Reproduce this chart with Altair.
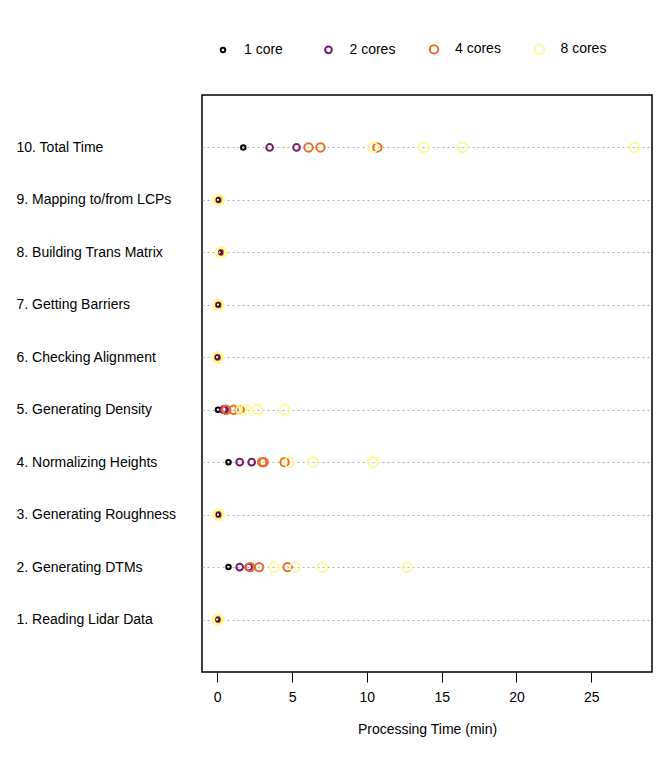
import altair as alt
import pandas as pd

steps = ["10. Total Time", "9. Mapping to/from LCPs", "8. Building Trans Matrix",
         "7. Getting Barriers", "6. Checking Alignment", "5. Generating Density",
         "4. Normalizing Heights", "3. Generating Roughness", "2. Generating DTMs",
         "1. Reading Lidar Data"]
cores = ["1 core", "2 cores", "4 cores", "8 cores"]

# values (min) per step per core count
vals = {
    "10. Total Time": [[1.74], [3.5, 5.3], [6.1, 6.9, 10.7], [10.4, 13.8, 16.4, 27.9]],
    "9. Mapping to/from LCPs": [[0.05], [0.05, 0.08], [0.05, 0.1, 0.08], [0.05, 0.1, 0.12, 0.08]],
    "8. Building Trans Matrix": [[0.15], [0.15, 0.2], [0.2, 0.25, 0.2], [0.25, 0.3, 0.3, 0.2]],
    "7. Getting Barriers": [[0.05], [0.05, 0.06], [0.05, 0.08, 0.06], [0.05, 0.08, 0.1, 0.06]],
    "6. Checking Alignment": [[0.0], [0.0, 0.02], [0.0, 0.02, 0.03], [0.0, 0.02, 0.03, 0.04]],
    "5. Generating Density": [[0.05], [0.4, 0.5], [0.6, 1.1, 1.5], [1.6, 1.9, 2.7, 4.5]],
    "4. Normalizing Heights": [[0.75], [1.5, 2.3], [3.0, 3.1, 4.5], [4.8, 6.4, 10.4, 10.4]],
    "3. Generating Roughness": [[0.05], [0.05, 0.08], [0.05, 0.1, 0.08], [0.05, 0.1, 0.12, 0.08]],
    "2. Generating DTMs": [[0.75], [1.5, 2.1], [2.2, 2.8, 4.7], [3.8, 5.2, 7.0, 12.7]],
    "1. Reading Lidar Data": [[0.0], [0.0, 0.05], [0.0, 0.05, 0.08], [0.0, 0.05, 0.08, 0.1]],
}

rows = []
for s in steps:
    for c, vs in zip(cores, vals[s]):
        for v in vs:
            rows.append({"step": s, "cores": c, "time": v})
df = pd.DataFrame(rows)

colors = ["#000000", "#781c6d", "#ed6925", "#fcfa9a"]
sizes = [20, 95, 180, 350]

chart = alt.Chart(df).mark_point(filled=False, strokeWidth=2, shape="circle", opacity=1).encode(
    x=alt.X("time:Q", scale=alt.Scale(domain=[-1.02, 29.06], nice=False, zero=False),
            axis=alt.Axis(values=[0, 5, 10, 15, 20, 25], title="Processing Time (min)", grid=False,
                          domain=False, tickSize=10, tickColor="black", labelFontSize=14,
                          labelPadding=8, titleFontSize=14, titleFontWeight="normal",
                          titlePadding=18, labelColor="black", titleColor="black")),
    y=alt.Y("step:N", sort=steps, scale=alt.Scale(padding=1),
            axis=alt.Axis(title=None, ticks=False, domain=False, labelAlign="left", labelPadding=186,
                          labelFontSize=14, labelColor="black", grid=True, gridDash=[2, 3],
                          gridColor="#b0b0b0")),
    color=alt.Color("cores:N", sort=cores, scale=alt.Scale(domain=cores, range=colors),
                    legend=alt.Legend(title=None, orient="none", legendX=14, legendY=-53,
                                      direction="horizontal", columns=4, gridAlign="all",
                                      columnPadding=29.5, symbolSize=30, symbolStrokeWidth=2,
                                      symbolType="circle", labelFontSize=14, labelOffset=14,
                                      labelColor="black")),
    size=alt.Size("cores:O", sort=cores, scale=alt.Scale(domain=cores, range=sizes), legend=None),
).properties(
    width=450, height=577,
    autosize=alt.AutoSizeParams(type="none"),
    padding={"left": 194, "top": 87, "right": 10, "bottom": 90},
).configure(font="Liberation Sans").configure_view(stroke="black", strokeWidth=1.5)

chart.save("out.html", embed_options={"renderer": "svg", "actions": False})
